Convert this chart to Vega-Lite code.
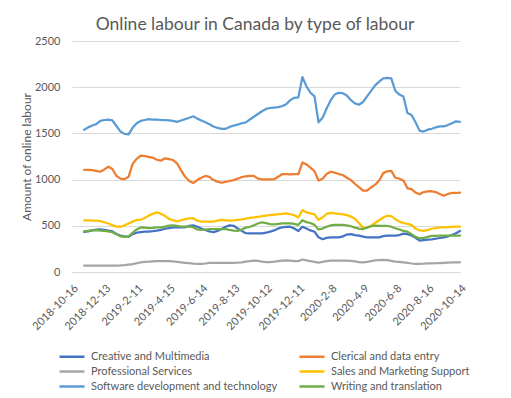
{
  "$schema": "https://vega.github.io/schema/vega-lite/v6.json",
  "autosize": {"type": "none"},
  "padding": {"left": 72, "top": 41, "right": 51, "bottom": 126},
  "width": 388,
  "height": 231,
  "background": "white",
  "config": {"font": "Lato", "view": {"stroke": null}},
  "title": {"text": "Online labour in Canada by type of labour", "fontSize": 17.5, "fontWeight": "normal", "color": "#595959", "anchor": "middle", "dx": -11, "offset": 2},
  "datasets": {
    "names": [
      {"k": "cm", "name": "Creative and Multimedia"},
      {"k": "cl", "name": "Clerical and data entry"},
      {"k": "ps", "name": "Professional Services"},
      {"k": "sm", "name": "Sales and Marketing Support"},
      {"k": "sw", "name": "Software development and technology"},
      {"k": "wt", "name": "Writing and translation"}
    ],
    "wide": [
      {"date": "2018-10-16"},
      {"date": "2018-10-23"},
      {"date": "2018-10-30"},
      {"date": "2018-11-6", "cm": 435, "cl": 1105, "ps": 68, "sm": 560, "sw": 1540, "wt": 440},
      {"date": "2018-11-13", "cm": 440, "cl": 1105, "ps": 68, "sm": 558, "sw": 1565, "wt": 445},
      {"date": "2018-11-20", "cm": 450, "cl": 1102, "ps": 68, "sm": 556, "sw": 1585, "wt": 450},
      {"date": "2018-11-27", "cm": 458, "cl": 1095, "ps": 68, "sm": 555, "sw": 1600, "wt": 452},
      {"date": "2018-12-5", "cm": 462, "cl": 1085, "ps": 68, "sm": 550, "sw": 1635, "wt": 448},
      {"date": "2018-12-13", "cm": 455, "cl": 1110, "ps": 68, "sm": 538, "sw": 1645, "wt": 444},
      {"date": "2018-12-20", "cm": 448, "cl": 1140, "ps": 68, "sm": 525, "sw": 1650, "wt": 440},
      {"date": "2018-12-27", "cm": 440, "cl": 1115, "ps": 68, "sm": 505, "sw": 1640, "wt": 430},
      {"date": "2019-1-3", "cm": 412, "cl": 1040, "ps": 70, "sm": 490, "sw": 1580, "wt": 410},
      {"date": "2019-1-10", "cm": 395, "cl": 1010, "ps": 72, "sm": 490, "sw": 1520, "wt": 385},
      {"date": "2019-1-18", "cm": 385, "cl": 1005, "ps": 75, "sm": 505, "sw": 1495, "wt": 380},
      {"date": "2019-1-26", "cm": 382, "cl": 1030, "ps": 80, "sm": 525, "sw": 1490, "wt": 385},
      {"date": "2019-2-3", "cm": 410, "cl": 1170, "ps": 85, "sm": 545, "sw": 1560, "wt": 425},
      {"date": "2019-2-11", "cm": 425, "cl": 1225, "ps": 95, "sm": 563, "sw": 1610, "wt": 460},
      {"date": "2019-2-19", "cm": 432, "cl": 1260, "ps": 105, "sm": 565, "sw": 1635, "wt": 482},
      {"date": "2019-2-27", "cm": 436, "cl": 1255, "ps": 110, "sm": 585, "sw": 1645, "wt": 480},
      {"date": "2019-3-7", "cm": 438, "cl": 1245, "ps": 112, "sm": 610, "sw": 1655, "wt": 475},
      {"date": "2019-3-15", "cm": 442, "cl": 1237, "ps": 115, "sm": 630, "sw": 1650, "wt": 478},
      {"date": "2019-3-23", "cm": 447, "cl": 1215, "ps": 118, "sm": 645, "sw": 1650, "wt": 482},
      {"date": "2019-3-31", "cm": 455, "cl": 1205, "ps": 118, "sm": 630, "sw": 1645, "wt": 484},
      {"date": "2019-4-7", "cm": 468, "cl": 1230, "ps": 118, "sm": 608, "sw": 1645, "wt": 492},
      {"date": "2019-4-15", "cm": 475, "cl": 1222, "ps": 118, "sm": 575, "sw": 1640, "wt": 503},
      {"date": "2019-4-22", "cm": 482, "cl": 1212, "ps": 115, "sm": 560, "sw": 1635, "wt": 505},
      {"date": "2019-4-29", "cm": 484, "cl": 1176, "ps": 110, "sm": 548, "sw": 1625, "wt": 498},
      {"date": "2019-5-6", "cm": 484, "cl": 1100, "ps": 105, "sm": 560, "sw": 1640, "wt": 490},
      {"date": "2019-5-13", "cm": 484, "cl": 1030, "ps": 100, "sm": 572, "sw": 1655, "wt": 490},
      {"date": "2019-5-21", "cm": 500, "cl": 985, "ps": 95, "sm": 580, "sw": 1670, "wt": 490},
      {"date": "2019-5-29", "cm": 505, "cl": 962, "ps": 90, "sm": 582, "sw": 1685, "wt": 485},
      {"date": "2019-6-6", "cm": 490, "cl": 995, "ps": 88, "sm": 555, "sw": 1660, "wt": 460},
      {"date": "2019-6-14", "cm": 470, "cl": 1020, "ps": 88, "sm": 545, "sw": 1640, "wt": 455},
      {"date": "2019-6-21", "cm": 455, "cl": 1040, "ps": 92, "sm": 545, "sw": 1620, "wt": 460},
      {"date": "2019-6-28", "cm": 440, "cl": 1030, "ps": 98, "sm": 545, "sw": 1600, "wt": 465},
      {"date": "2019-7-5", "cm": 430, "cl": 995, "ps": 100, "sm": 545, "sw": 1575, "wt": 465},
      {"date": "2019-7-12", "cm": 445, "cl": 978, "ps": 100, "sm": 555, "sw": 1560, "wt": 465},
      {"date": "2019-7-20", "cm": 465, "cl": 966, "ps": 100, "sm": 563, "sw": 1550, "wt": 465},
      {"date": "2019-7-28", "cm": 490, "cl": 975, "ps": 100, "sm": 560, "sw": 1550, "wt": 465},
      {"date": "2019-8-5", "cm": 505, "cl": 985, "ps": 100, "sm": 555, "sw": 1570, "wt": 455},
      {"date": "2019-8-13", "cm": 500, "cl": 995, "ps": 100, "sm": 558, "sw": 1585, "wt": 448},
      {"date": "2019-8-20", "cm": 470, "cl": 1010, "ps": 102, "sm": 565, "sw": 1595, "wt": 445},
      {"date": "2019-8-27", "cm": 445, "cl": 1028, "ps": 105, "sm": 570, "sw": 1610, "wt": 460},
      {"date": "2019-9-3", "cm": 420, "cl": 1035, "ps": 112, "sm": 578, "sw": 1620, "wt": 480},
      {"date": "2019-9-10", "cm": 419, "cl": 1040, "ps": 118, "sm": 585, "sw": 1650, "wt": 490},
      {"date": "2019-9-18", "cm": 419, "cl": 1040, "ps": 122, "sm": 590, "sw": 1680, "wt": 505},
      {"date": "2019-9-26", "cm": 419, "cl": 1010, "ps": 120, "sm": 596, "sw": 1710, "wt": 525},
      {"date": "2019-10-4", "cm": 419, "cl": 1003, "ps": 112, "sm": 605, "sw": 1740, "wt": 538},
      {"date": "2019-10-12", "cm": 425, "cl": 1003, "ps": 108, "sm": 610, "sw": 1765, "wt": 530},
      {"date": "2019-10-19", "cm": 436, "cl": 1003, "ps": 108, "sm": 615, "sw": 1775, "wt": 518},
      {"date": "2019-10-26", "cm": 450, "cl": 1003, "ps": 112, "sm": 620, "sw": 1780, "wt": 516},
      {"date": "2019-11-2", "cm": 470, "cl": 1030, "ps": 118, "sm": 625, "sw": 1785, "wt": 520},
      {"date": "2019-11-9", "cm": 484, "cl": 1058, "ps": 124, "sm": 630, "sw": 1795, "wt": 525},
      {"date": "2019-11-17", "cm": 488, "cl": 1060, "ps": 126, "sm": 635, "sw": 1815, "wt": 527},
      {"date": "2019-11-25", "cm": 490, "cl": 1057, "ps": 122, "sm": 625, "sw": 1860, "wt": 527},
      {"date": "2019-12-3", "cm": 470, "cl": 1060, "ps": 118, "sm": 615, "sw": 1885, "wt": 520},
      {"date": "2019-12-11", "cm": 444, "cl": 1060, "ps": 118, "sm": 590, "sw": 1890, "wt": 510},
      {"date": "2019-12-18", "cm": 490, "cl": 1185, "ps": 135, "sm": 670, "sw": 2110, "wt": 560},
      {"date": "2019-12-25", "cm": 470, "cl": 1165, "ps": 125, "sm": 645, "sw": 2010, "wt": 540},
      {"date": "2020-1-1", "cm": 450, "cl": 1130, "ps": 118, "sm": 635, "sw": 1940, "wt": 530},
      {"date": "2020-1-8", "cm": 436, "cl": 1090, "ps": 110, "sm": 625, "sw": 1900, "wt": 510},
      {"date": "2020-1-16", "cm": 375, "cl": 990, "ps": 102, "sm": 565, "sw": 1620, "wt": 460},
      {"date": "2020-1-24", "cm": 355, "cl": 1010, "ps": 110, "sm": 590, "sw": 1670, "wt": 470},
      {"date": "2020-2-1", "cm": 370, "cl": 1060, "ps": 118, "sm": 630, "sw": 1770, "wt": 490},
      {"date": "2020-2-8", "cm": 375, "cl": 1085, "ps": 122, "sm": 640, "sw": 1860, "wt": 505},
      {"date": "2020-2-16", "cm": 375, "cl": 1075, "ps": 122, "sm": 635, "sw": 1920, "wt": 510},
      {"date": "2020-2-24", "cm": 375, "cl": 1060, "ps": 122, "sm": 630, "sw": 1940, "wt": 510},
      {"date": "2020-3-3", "cm": 385, "cl": 1050, "ps": 122, "sm": 625, "sw": 1935, "wt": 510},
      {"date": "2020-3-11", "cm": 405, "cl": 1020, "ps": 122, "sm": 615, "sw": 1910, "wt": 505},
      {"date": "2020-3-18", "cm": 410, "cl": 995, "ps": 120, "sm": 600, "sw": 1860, "wt": 495},
      {"date": "2020-3-25", "cm": 400, "cl": 955, "ps": 115, "sm": 575, "sw": 1825, "wt": 480},
      {"date": "2020-4-2", "cm": 393, "cl": 918, "ps": 108, "sm": 530, "sw": 1810, "wt": 470},
      {"date": "2020-4-9", "cm": 383, "cl": 880, "ps": 105, "sm": 478, "sw": 1840, "wt": 465},
      {"date": "2020-4-16", "cm": 375, "cl": 880, "ps": 110, "sm": 480, "sw": 1900, "wt": 480},
      {"date": "2020-4-23", "cm": 375, "cl": 915, "ps": 118, "sm": 500, "sw": 1960, "wt": 495},
      {"date": "2020-4-30", "cm": 375, "cl": 945, "ps": 125, "sm": 530, "sw": 2020, "wt": 502},
      {"date": "2020-5-7", "cm": 375, "cl": 990, "ps": 128, "sm": 560, "sw": 2060, "wt": 500},
      {"date": "2020-5-15", "cm": 388, "cl": 1070, "ps": 130, "sm": 590, "sw": 2095, "wt": 498},
      {"date": "2020-5-23", "cm": 393, "cl": 1090, "ps": 128, "sm": 608, "sw": 2100, "wt": 498},
      {"date": "2020-5-31", "cm": 393, "cl": 1095, "ps": 120, "sm": 606, "sw": 2095, "wt": 490},
      {"date": "2020-6-8", "cm": 393, "cl": 1020, "ps": 112, "sm": 570, "sw": 1960, "wt": 473},
      {"date": "2020-6-17", "cm": 400, "cl": 1010, "ps": 110, "sm": 545, "sw": 1920, "wt": 460},
      {"date": "2020-6-26", "cm": 415, "cl": 990, "ps": 105, "sm": 530, "sw": 1900, "wt": 445},
      {"date": "2020-7-5", "cm": 410, "cl": 906, "ps": 100, "sm": 520, "sw": 1720, "wt": 436},
      {"date": "2020-7-13", "cm": 395, "cl": 897, "ps": 92, "sm": 510, "sw": 1700, "wt": 410},
      {"date": "2020-7-21", "cm": 370, "cl": 860, "ps": 88, "sm": 470, "sw": 1620, "wt": 380},
      {"date": "2020-7-29", "cm": 340, "cl": 842, "ps": 88, "sm": 450, "sw": 1530, "wt": 365},
      {"date": "2020-8-7", "cm": 345, "cl": 865, "ps": 90, "sm": 445, "sw": 1520, "wt": 370},
      {"date": "2020-8-16", "cm": 350, "cl": 872, "ps": 93, "sm": 455, "sw": 1540, "wt": 380},
      {"date": "2020-8-23", "cm": 354, "cl": 874, "ps": 94, "sm": 468, "sw": 1550, "wt": 390},
      {"date": "2020-8-30", "cm": 360, "cl": 865, "ps": 95, "sm": 475, "sw": 1565, "wt": 392},
      {"date": "2020-9-6", "cm": 368, "cl": 845, "ps": 97, "sm": 484, "sw": 1575, "wt": 393},
      {"date": "2020-9-13", "cm": 375, "cl": 826, "ps": 100, "sm": 484, "sw": 1575, "wt": 393},
      {"date": "2020-9-21", "cm": 385, "cl": 845, "ps": 102, "sm": 486, "sw": 1590, "wt": 393},
      {"date": "2020-9-29", "cm": 400, "cl": 855, "ps": 104, "sm": 488, "sw": 1610, "wt": 393},
      {"date": "2020-10-7", "cm": 420, "cl": 855, "ps": 105, "sm": 490, "sw": 1630, "wt": 393},
      {"date": "2020-10-14", "cm": 444, "cl": 858, "ps": 105, "sm": 490, "sw": 1625, "wt": 393}
    ]
  },
  "data": {"name": "wide"},
  "transform": [
    {"fold": ["cm", "cl", "ps", "sm", "sw", "wt"], "as": ["k", "value"]},
    {"lookup": "k", "from": {"data": {"name": "names"}, "key": "k", "fields": ["name"]}}
  ],
  "mark": {"type": "line", "strokeWidth": 2.25, "strokeJoin": "round", "strokeCap": "round"},
  "encoding": {
    "x": {
      "field": "date",
      "type": "ordinal",
      "sort": null,
      "scale": {"type": "point", "padding": 0},
      "axis": {
        "title": null,
        "values": ["2018-10-16", "2018-12-13", "2019-2-11", "2019-4-15", "2019-6-14", "2019-8-13", "2019-10-12", "2019-12-11", "2020-2-8", "2020-4-9", "2020-6-8", "2020-8-16", "2020-10-14"],
        "labelAngle": -45,
        "labelAlign": "right",
        "labelBaseline": "top",
        "labelFontSize": 11,
        "labelColor": "#595959",
        "labelPadding": 10,
        "labelOverlap": false,
        "ticks": false,
        "tickSize": 0,
        "domain": true,
        "domainColor": "#d9d9d9",
        "grid": false
      }
    },
    "y": {
      "field": "value",
      "type": "quantitative",
      "scale": {"domain": [0, 2500]},
      "axis": {
        "title": "Amount of online labour",
        "titleFontSize": 12,
        "titleFontWeight": "normal",
        "titleColor": "#595959",
        "titleX": -46,
        "titleY": 115.5,
        "titleAlign": "center",
        "titleBaseline": "middle",
        "values": [0, 500, 1000, 1500, 2000, 2500],
        "format": "d",
        "labelFontSize": 11,
        "labelColor": "#595959",
        "labelPadding": 12,
        "ticks": false,
        "tickSize": 0,
        "domain": false,
        "grid": true,
        "gridColor": "#d9d9d9",
        "gridWidth": 1
      }
    },
    "color": {
      "field": "name",
      "type": "nominal",
      "scale": {
        "domain": ["Creative and Multimedia", "Clerical and data entry", "Professional Services", "Sales and Marketing Support", "Software development and technology", "Writing and translation"],
        "range": ["#4472C4", "#ED7D31", "#A5A5A5", "#FFC000", "#5B9BD5", "#70AD47"]
      },
      "legend": {
        "title": null,
        "orient": "none",
        "direction": "horizontal",
        "legendX": -6.5,
        "legendY": 309,
        "columns": 2,
        "columnPadding": 17,
        "rowPadding": 3,
        "padding": 0,
        "symbolType": "M-2.5,0H2.5",
        "symbolSize": 100,
        "symbolStrokeWidth": 2.5,
        "labelOffset": 12.5,
        "labelFontSize": 11,
        "labelColor": "#595959",
        "labelLimit": 300
      }
    }
  }
}
